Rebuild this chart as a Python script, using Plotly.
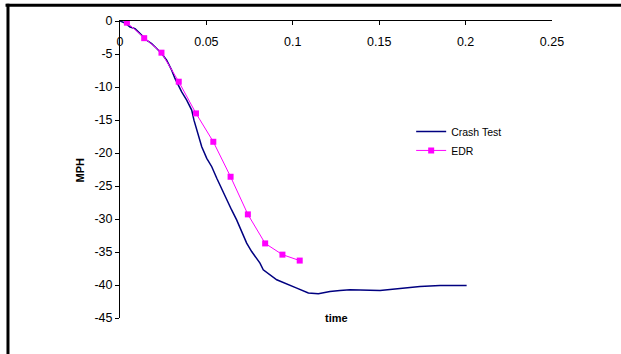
import plotly.graph_objects as go

# Crash test trace (time in s, speed change in MPH)
crash_t = [0.0, 0.0029, 0.0058, 0.0087, 0.0116, 0.0135, 0.0155, 0.0183, 0.0212, 0.0241,
           0.0270, 0.0299, 0.0318, 0.0337, 0.0357, 0.0386, 0.0415, 0.0428, 0.0444, 0.0473,
           0.0502, 0.0531, 0.0560, 0.0590, 0.0617, 0.0646, 0.0675, 0.0704, 0.0733, 0.0762,
           0.0810, 0.0829, 0.0907, 0.1023, 0.1090, 0.1148, 0.1215, 0.1273, 0.1331, 0.1505,
           0.1620, 0.1736, 0.1852, 0.2006]
crash_v = [0.0, -0.30, -0.91, -1.15, -1.91, -2.42, -2.92, -3.42, -4.17, -4.93,
           -5.94, -7.45, -8.70, -9.72, -10.74, -11.99, -13.50, -15.02, -16.53, -19.05,
           -20.81, -22.08, -23.83, -25.60, -27.11, -28.63, -30.14, -31.91, -33.66, -34.93,
           -36.69, -37.70, -39.21, -40.47, -41.22, -41.33, -40.98, -40.83, -40.72, -40.83,
           -40.47, -40.22, -40.07, -40.07]

# EDR samples
edr_t = [0.004, 0.014, 0.024, 0.034, 0.044, 0.054, 0.064, 0.074, 0.084, 0.094, 0.104]
edr_v = [-0.25, -2.6, -4.8, -9.2, -14.0, -18.3, -23.6, -29.3, -33.7, -35.4, -36.3]

x_ticks = [0, 0.05, 0.1, 0.15, 0.2, 0.25]
x_labels = ["0", "0.05", "0.1", "0.15", "0.2", "0.25"]
y_ticks = [0, -5, -10, -15, -20, -25, -30, -35, -40, -45]
y_labels = ["0", "-5", "-10", "-15", "-20", "-25", "-30", "-35", "-40", "-45"]

FONT = "Liberation Sans, Arial, sans-serif"

fig = go.Figure()
fig.add_trace(go.Scatter(x=crash_t, y=crash_v, mode="lines", name="Crash Test",
                         line=dict(color="#000080", width=1.5)))
fig.add_trace(go.Scatter(x=edr_t, y=edr_v, mode="lines+markers", name="EDR",
                         line=dict(color="#FF00FF", width=1),
                         marker=dict(symbol="square", size=6, color="#FF00FF")))
# carrier for the label-only x axis
fig.add_trace(go.Scatter(x=[None], y=[None], xaxis="x2", showlegend=False,
                         hoverinfo="skip", mode="lines"))

fig.update_layout(
    width=621, height=354,
    margin=dict(l=120, r=69, t=21, b=36),
    paper_bgcolor="white", plot_bgcolor="white",
    font=dict(family=FONT, size=12.5, color="black"),
    showlegend=True,
    legend=dict(x=0.674, y=0.677, xanchor="left", yanchor="top",
                font=dict(family=FONT, size=10.5, color="black"),
                bgcolor="rgba(0,0,0,0)", tracegroupgap=0),
    xaxis=dict(range=[0, 0.25], side="top", showline=True, linecolor="black", linewidth=1,
               ticks="inside", ticklen=4, tickcolor="black",
               showticklabels=False, tickvals=x_ticks,
               showgrid=False, zeroline=False, fixedrange=True),
    xaxis2=dict(range=[0, 0.25], overlaying="x", side="bottom", anchor="free",
                position=0.962, showline=False, ticks="",
                tickvals=x_ticks, ticktext=x_labels,
                showgrid=False, zeroline=False, fixedrange=True),
    yaxis=dict(range=[-45, 0], showline=True, linecolor="black", linewidth=1,
               ticks="outside", ticklen=4, tickcolor="black",
               tickvals=y_ticks, ticktext=y_labels,
               showgrid=False, zeroline=False, fixedrange=True),
    annotations=[
        dict(text="<b>MPH</b>", xref="paper", yref="paper", x=-0.0926, y=0.5,
             xanchor="center", yanchor="middle",
             textangle=-90, showarrow=False, font=dict(family=FONT, size=11)),
        dict(text="<b>time</b>", xref="paper", yref="paper", x=0.5, y=0.0,
             xanchor="center", yanchor="middle", showarrow=False,
             font=dict(family=FONT, size=11)),
    ],
    shapes=[
        dict(type="line", xref="paper", yref="paper", x0=-0.265, x1=1.2, y0=1.0528, y1=1.0528,
             line=dict(color="black", width=3)),
        dict(type="line", xref="paper", yref="paper", x0=-0.2593, x1=-0.2593, y0=1.058, y1=-0.2,
             line=dict(color="black", width=3)),
    ],
)

fig.write_html("out.html")
